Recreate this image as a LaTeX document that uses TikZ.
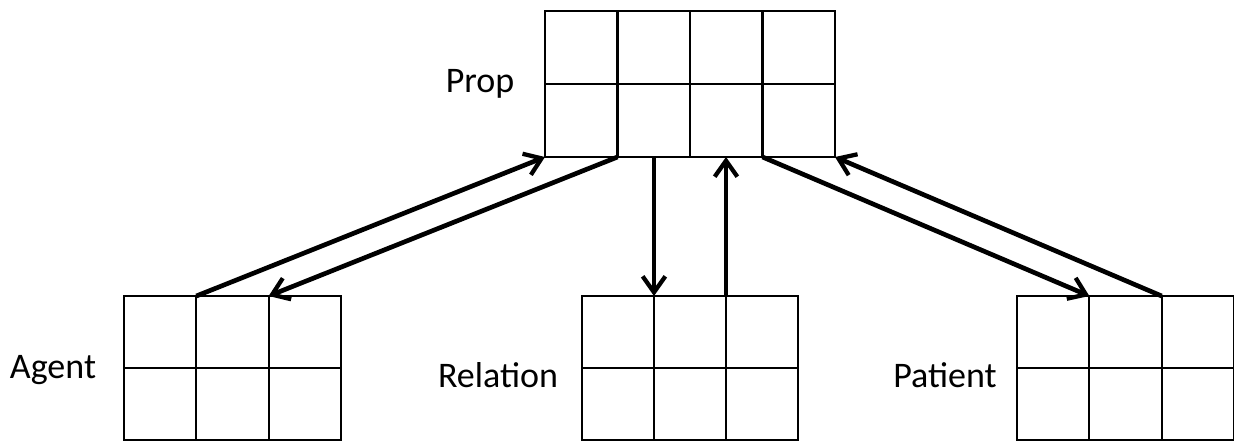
\documentclass[tikz,border=0pt]{standalone}
\usepackage{fontspec}
\setmainfont{Carlito}
\usetikzlibrary{arrows.meta,calc}
\begin{document}
\begin{tikzpicture}[x=0.75pt,y=-0.75pt,
  grid/.style={draw,line width=1.7pt,inner sep=0pt,outer sep=0pt,anchor=north west},
  gline/.style={line width=1.7pt},
  link/.style={line width=3.5pt,-{Straight Barb[length=12pt,width=17pt,line width=3.2pt]}},
  lab/.style={font=\fontsize{27}{31}\selectfont,inner sep=0pt}]
\useasboundingbox (0,0) rectangle (1234,443);
\node[grid,minimum width=217.5pt,minimum height=109.5pt] (prop) at (545,11) {};
\node[grid,minimum width=162.75pt,minimum height=108pt] (agent) at (124,296) {};
\node[grid,minimum width=162pt,minimum height=108pt] (rel) at (582,296) {};
\node[grid,minimum width=162.75pt,minimum height=108pt] (pat) at (1017,296) {};
% inner lines
\foreach \f in {0.25,0.5,0.75}
  \draw[gline] ($(prop.north west)!\f!(prop.north east)$) -- ($(prop.south west)!\f!(prop.south east)$);
\draw[gline] (prop.west) -- (prop.east);
\foreach \n in {agent,rel,pat}{
  \foreach \f in {0.3333,0.6667}
    \draw[gline] ($(\n.north west)!\f!(\n.north east)$) -- ($(\n.south west)!\f!(\n.south east)$);
  \draw[gline] (\n.west) -- (\n.east);
}
% connection points
\coordinate (a1) at ($(agent.north west)!0.3333!(agent.north east)$);
\coordinate (a2) at ($(agent.north west)!0.6667!(agent.north east)$);
\coordinate (r1) at ($(rel.north west)!0.3333!(rel.north east)$);
\coordinate (r2) at ($(rel.north west)!0.6667!(rel.north east)$);
\coordinate (q1) at ($(pat.north west)!0.3333!(pat.north east)$);
\coordinate (q2) at ($(pat.north west)!0.6667!(pat.north east)$);
\coordinate (p1) at ($(prop.south west)!0.25!(prop.south east)$);
\coordinate (p3) at ($(prop.south west)!0.75!(prop.south east)$);
% arrows
\draw[link] (a1) -- (prop.south west);
\draw[link] (p1) -- (a2);
\draw[link] (r1 |- prop.south) -- (r1);
\draw[link] (r2) -- (r2 |- prop.south);
\draw[link] (p3) -- (q1);
\draw[link] (q2) -- (prop.south east);
% labels
\node[lab] (lprop) at (480,84) {Prop};
\node[lab] (lagent) at (53,370) {Agent};
\node[lab] (lrel) at (498,375) {Relation};
\node[lab] (lpat) at (945,375) {Patient};
\end{tikzpicture}
\end{document}
